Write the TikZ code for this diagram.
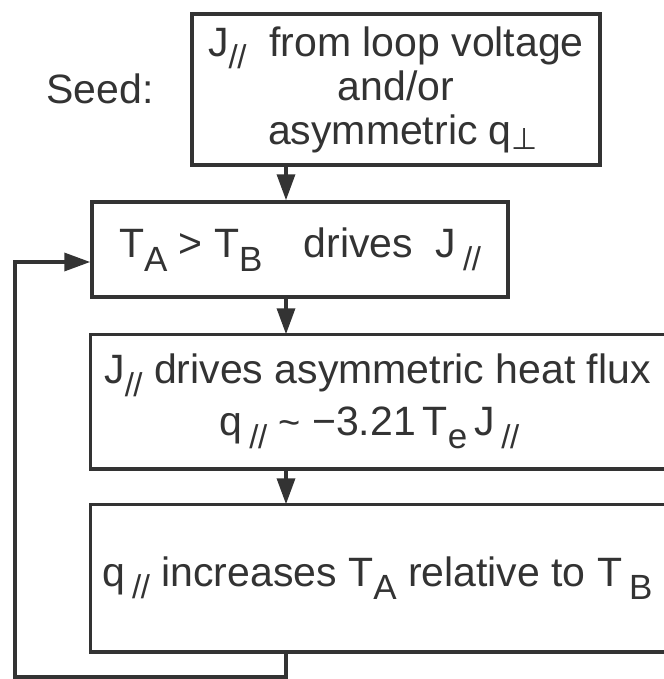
\documentclass[tikz,border=0pt]{standalone}
\usepackage{fontspec}
\setmainfont{Liberation Sans}
\newfontfamily\djvfont{DejaVu Sans}
\usetikzlibrary{arrows.meta}
\definecolor{ink}{HTML}{333333}
\newcommand{\lsub}[1]{\raisebox{-0.33em}{\fontsize{35}{35}\selectfont #1}}
\newcommand{\pl}{\raisebox{-0.31em}{\fontsize{33}{33}\selectfont /\kern-0.5pt/}}
\begin{document}
\begin{tikzpicture}[x=1pt,y=-1pt, font=\fontsize{41}{44}\selectfont, text=ink,
  box/.style={draw=ink, line width=3.5pt, inner sep=0pt, align=center},
  openbox/.style={line width=3.5pt, inner sep=0pt, align=center},
  flow/.style={draw=ink, line width=3.5pt, -{Triangle[length=26pt,width=18pt]}}]
\useasboundingbox (0,0) rectangle (663,679);
\node (seedlbl) at (100,89) {Seed:};
\node[box, minimum width=408pt, minimum height=151pt] (seed) at (396,89.5)
  {J\pl\ \ from loop voltage\\and/or\\\hspace*{14pt}asymmetric q\raisebox{-0.12em}{\djvfont\fontsize{30}{30}\selectfont ⊥}};
\node[box, minimum width=416pt, minimum height=95pt] (b2) at (300,249.5)
  {T\lsub{A} > T\lsub{B}\quad drives\ \ J\,\pl};
\node[openbox, minimum width=571pt, minimum height=131pt] (b3) at (377.5,401.5)
  {J\pl\ drives asymmetric heat flux\\[8pt]
   q\,\pl\ {\fontsize{38}{38}\selectfont\textasciitilde}\ −3.21\,T\lsub{e}\,J\,\pl\hspace*{16pt}};
\node[openbox, minimum width=571pt, minimum height=144pt] (b4) at (377.5,578)
  {q\,\pl\ increases T\lsub{A} relative to T\,\lsub{B}};
\draw[draw=ink, line width=3.5pt] (b3.north east) -- (b3.north west) -- (b3.south west) -- (b3.south east);
\draw[draw=ink, line width=3.5pt] (b4.north east) -- (b4.north west) -- (b4.south west) -- (b4.south east);
\coordinate (ax) at (286,0);
\coordinate (c1) at (286,677);
\coordinate (c2) at (15,677);
\coordinate (c3) at (15,262);
\draw[flow] (seed.south -| ax) -- (b2.north -| ax);
\draw[flow] (b2.south -| ax) -- (b3.north -| ax);
\draw[flow] (b3.south -| ax) -- (b4.north -| ax);
\draw[flow] (b4.south -| c1) -- (c1) -- (c2) -- (c3) -- (c3 -| b2.west);
\end{tikzpicture}
\end{document}
